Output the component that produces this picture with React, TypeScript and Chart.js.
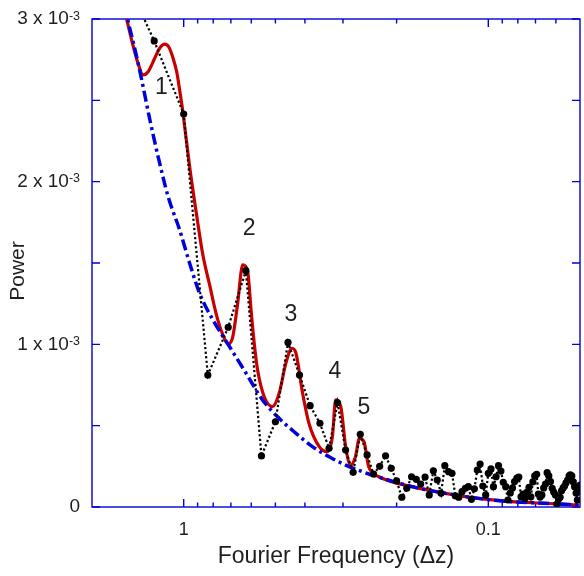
import React, { useEffect, useRef } from "react";
import { Chart, registerables } from "chart.js";

Chart.register(...registerables);

// Fourier frequencies of the measured points (Δz)
const FREQ = [
  1.6667, 1.25, 1.0, 0.8333, 0.7143, 0.625, 0.5556, 0.5, 0.4545, 0.4167, 0.3846, 0.3571,
  0.3333, 0.3125, 0.2941, 0.2778, 0.2632, 0.25, 0.2381, 0.2273, 0.2174, 0.2083, 0.2, 0.1923,
  0.1852, 0.1786, 0.1724, 0.1667, 0.1613, 0.1563, 0.1515, 0.1471, 0.1429, 0.1389, 0.1351,
  0.1316, 0.1282, 0.125, 0.122, 0.119, 0.1163, 0.1136, 0.1111, 0.1087, 0.1064, 0.1042, 0.102,
  0.1, 0.098, 0.0962, 0.0943, 0.0926, 0.0909, 0.0893, 0.0877, 0.0862, 0.0847, 0.0833, 0.082,
  0.0806, 0.0794, 0.0781, 0.0769, 0.0758, 0.0746, 0.0735, 0.0725, 0.0714, 0.0704, 0.0694,
  0.0685, 0.0676, 0.0667, 0.0658, 0.0649, 0.0641, 0.0633, 0.0625, 0.0617, 0.061, 0.0602,
  0.0595, 0.0588, 0.0581, 0.0575, 0.0568, 0.0562, 0.0556, 0.0549, 0.0543, 0.0538, 0.0532,
  0.0526, 0.0521, 0.0515, 0.051, 0.0505, 0.05,
];

// Measured power (units of 1e-3)
const POWER = [
  3.38, 2.865, 2.416, 0.811, 1.105, 1.453, 0.314, 0.524, 1.012, 0.811, 0.623, 0.515, 0.361,
  0.641, 0.35, 0.213, 0.447, 0.32, 0.203, 0.25, 0.315, 0.238,
  0.16, 0.06, 0.115, 0.186, 0.17, 0.141, 0.184, 0.074, 0.223, 0.166, 0.084, 0.254, 0.217,
  0.207, 0.068, 0.06, 0.094, 0.115, 0.125, 0.047, 0.112, 0.227, 0.264, 0.129, 0.074, 0.207,
  0.234, 0.125, 0.186, 0.254, 0.221, 0.152, 0.125, 0.043, 0.086, 0.117, 0.156, 0.178, 0.184,
  0.063, 0.08, 0.053, 0.092, 0.121, 0.063, 0.154, 0.191, 0.201, 0.08, 0.061, 0.074, 0.117,
  0.141, 0.211, 0.191, 0.156, 0.115, 0.092, 0.074, 0.018, 0.049, 0.06, 0.1, 0.117, 0.129,
  0.148, 0.166, 0.191, 0.197, 0.191, 0.154, 0.125, 0.086, 0.043, 0.094, 0.135,
];

// Fitted model (red)
const FIT_X = [
  1.595, 1.539, 1.468, 1.413, 1.359, 1.311, 1.244, 1.198, 1.154, 1.119, 1.084, 1.054, 1.031,
  1.005, 0.956, 0.909, 0.865, 0.822, 0.782, 0.746, 0.713, 0.69, 0.666, 0.64, 0.617, 0.601,
  0.586, 0.572, 0.544, 0.511, 0.486, 0.462, 0.441, 0.428, 0.407, 0.388, 0.359, 0.338, 0.325,
  0.317, 0.305, 0.294, 0.283, 0.273, 0.265, 0.256, 0.247, 0.238, 0.229, 0.178, 0.1385,
  0.1078, 0.0839, 0.0653, 0.0504,
];
const FIT_Y = [
  3.12, 3.0, 2.84, 2.729, 2.656, 2.674, 2.76, 2.822, 2.846, 2.828, 2.76, 2.674, 2.563, 2.42,
  2.092, 1.807, 1.549, 1.365, 1.186, 1.064, 1.002, 1.047, 1.242, 1.488, 1.451, 1.211, 0.996,
  0.842, 0.678, 0.617, 0.699, 0.883, 0.976, 0.945, 0.699, 0.515, 0.371, 0.34, 0.432, 0.658,
  0.617, 0.371, 0.258, 0.309, 0.422, 0.401, 0.248, 0.209, 0.186, 0.125, 0.084, 0.053, 0.033,
  0.023, 0.012,
];

// Background model (blue)
const BG_X = [
  1.565, 1.521, 1.427, 1.359, 1.291, 1.213, 1.125, 1.031, 0.956, 0.887, 0.802, 0.707, 0.624,
  0.551, 0.486, 0.428, 0.378, 0.333, 0.294, 0.259, 0.229, 0.178, 0.1385, 0.1078, 0.0839,
  0.0653, 0.0504,
];
const BG_Y = [
  3.086, 2.983, 2.768, 2.584, 2.379, 2.153, 1.908, 1.703, 1.498, 1.314, 1.15, 0.985, 0.822,
  0.658, 0.545, 0.453, 0.371, 0.309, 0.258, 0.217, 0.184, 0.125, 0.084, 0.053, 0.033, 0.023,
  0.012,
];

// Peak labels
const PEAK_LABELS = ["1", "2", "3", "4", "5"];
const PEAK_X = [1.183, 0.61, 0.445, 0.319, 0.256];
const PEAK_Y = [2.576, 1.709, 1.18, 0.832, 0.613];

// Ticks
const Y_MAJOR = [0, 1, 2, 3];
const Y_MINOR = [0.5, 1.5, 2.5];
const X_MAJOR = [1, 0.1];
const X_MAJOR_LABELS = ["1", "0.1"];
const X_MINOR = [0.9, 0.8, 0.7, 0.6, 0.5, 0.4, 0.3, 0.2, 0.09, 0.08, 0.07, 0.06];

const SCALE = 1e-3;
const AXIS_COLOR = "#0000d8";
const TEXT_COLOR = "#1e1e1e";
const FONT = "'Liberation Sans', Arial, sans-serif";

const framePlugin = {
  id: "frame",
  beforeDatasetsDraw(chart: any) {
    const { ctx, chartArea: a, scales } = chart;
    const x = scales.x;
    const y = scales.y;
    ctx.save();
    ctx.strokeStyle = AXIS_COLOR;
    ctx.lineWidth = 1.4;
    ctx.beginPath();
    const line = (x1: number, y1: number, x2: number, y2: number) => {
      ctx.moveTo(x1, y1);
      ctx.lineTo(x2, y2);
    };
    [...Y_MAJOR, ...Y_MINOR].forEach((v) => {
      const py = y.getPixelForValue(v * SCALE);
      line(a.left, py, a.left + 8, py);
      line(a.right, py, a.right - 8, py);
    });
    X_MAJOR.forEach((v) => {
      const px = x.getPixelForValue(v);
      line(px, a.bottom, px, a.bottom - 8);
      line(px, a.top, px, a.top + 8);
    });
    X_MINOR.forEach((v) => {
      const px = x.getPixelForValue(v);
      line(px, a.bottom, px, a.bottom - 4.5);
      line(px, a.top, px, a.top + 4.5);
    });
    ctx.stroke();
    ctx.strokeRect(a.left, a.top, a.right - a.left, a.bottom - a.top);
    ctx.restore();
  },
  afterDraw(chart: any) {
    const { ctx, chartArea: a, scales } = chart;
    const x = scales.x;
    const y = scales.y;
    ctx.save();
    ctx.fillStyle = TEXT_COLOR;
    // y tick labels
    const rightEdge = 80;
    Y_MAJOR.forEach((v) => {
      const py = y.getPixelForValue(v * SCALE);
      if (v === 0) {
        ctx.font = `19px ${FONT}`;
        ctx.textAlign = "right";
        ctx.textBaseline = "middle";
        ctx.fillText("0", rightEdge, py);
        return;
      }
      ctx.font = `12.5px ${FONT}`;
      const sup = "-3";
      const sw = ctx.measureText(sup).width;
      ctx.textAlign = "right";
      ctx.textBaseline = "alphabetic";
      ctx.fillText(sup, rightEdge, py + 0.5);
      ctx.font = `19px ${FONT}`;
      ctx.textBaseline = "middle";
      ctx.fillText(`${v} x 10`, rightEdge - sw, py);
    });
    // x tick labels
    ctx.font = `18px ${FONT}`;
    ctx.textAlign = "center";
    ctx.textBaseline = "middle";
    X_MAJOR.forEach((v, i) => {
      ctx.fillText(X_MAJOR_LABELS[i], x.getPixelForValue(v), a.bottom + 23);
    });
    // axis titles
    ctx.font = `23px ${FONT}`;
    ctx.fillText("Fourier Frequency (\u0394z)", (a.left + a.right) / 2, a.bottom + 50);
    ctx.save();
    ctx.font = `21px ${FONT}`;
    ctx.translate(18, (a.top + a.bottom) / 2 + 8);
    ctx.rotate(-Math.PI / 2);
    ctx.fillText("Power", 0, 0);
    ctx.restore();
    // peak labels
    ctx.font = `23px ${FONT}`;
    PEAK_LABELS.forEach((t, i) => {
      ctx.fillText(t, x.getPixelForValue(PEAK_X[i]), y.getPixelForValue(PEAK_Y[i] * SCALE));
    });
    ctx.restore();
  },
};

export default function App() {
  const canvasRef = useRef<HTMLCanvasElement | null>(null);

  useEffect(() => {
    const canvas = canvasRef.current;
    if (!canvas) return;
    const measured = FREQ.map((f, i) => ({ x: f, y: POWER[i] * SCALE }));
    const fit = FIT_X.map((f, i) => ({ x: f, y: FIT_Y[i] * SCALE }));
    const bg = BG_X.map((f, i) => ({ x: f, y: BG_Y[i] * SCALE }));

    const chart = new Chart(canvas, {
      type: "line",
      data: {
        datasets: [
          {
            label: "Data",
            data: measured,
            borderColor: "#000",
            borderWidth: 2.2,
            borderDash: [2.2, 2.4],
            pointRadius: 3.6,
            pointBackgroundColor: "#000",
            pointBorderWidth: 0,
            tension: 0,
            clip: 0,
          },
          {
            label: "Background",
            data: bg,
            borderColor: "#0000dd",
            borderWidth: 3.5,
            borderDash: [11, 4, 3, 4],
            pointRadius: 0,
            cubicInterpolationMode: "monotone",
            clip: 0,
          },
          {
            label: "Fit",
            data: fit,
            borderColor: "#c80000",
            borderWidth: 3.2,
            pointRadius: 0,
            cubicInterpolationMode: "monotone",
            clip: 0,
          },
        ],
      },
      options: {
        animation: false,
        responsive: false,
        devicePixelRatio: window.devicePixelRatio || 1,
        layout: { padding: { top: 19, right: 4, left: 0, bottom: 0 } },
        plugins: { legend: { display: false }, tooltip: { enabled: false } },
        events: [],
        scales: {
          x: {
            type: "logarithmic",
            reverse: true,
            min: 0.05,
            max: 2,
            grid: { display: false },
            border: { display: false },
            ticks: { display: false },
            afterFit: (s: any) => {
              s.height = 69;
            },
          },
          y: {
            type: "linear",
            min: 0,
            max: 3 * SCALE,
            grid: { display: false },
            border: { display: false },
            ticks: { display: false },
            afterFit: (s: any) => {
              s.width = 92;
            },
          },
        },
      },
      plugins: [framePlugin],
    } as any);

    return () => chart.destroy();
  }, []);

  return (
    <div style={{ position: "absolute", left: 0, top: 0, width: 584, height: 576, background: "#fff" }}>
      <canvas ref={canvasRef} width={584} height={576} />
    </div>
  );
}
